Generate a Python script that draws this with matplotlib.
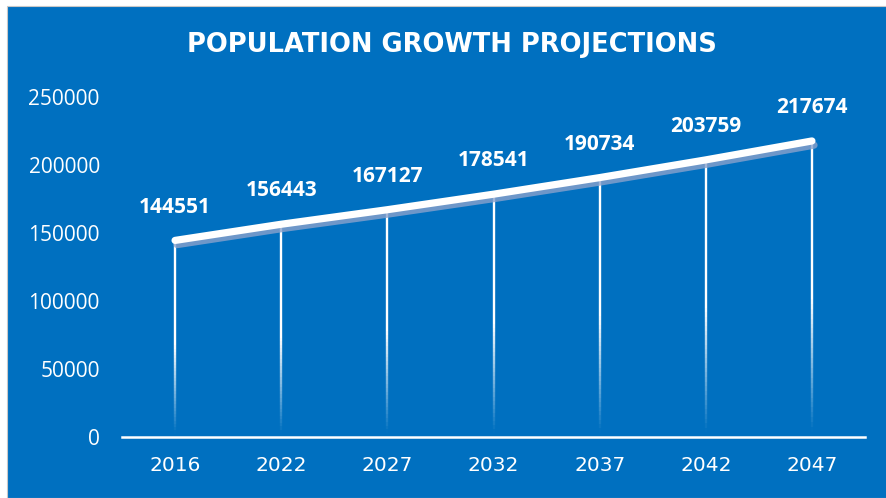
import numpy as np
import matplotlib
matplotlib.use('Agg')
import matplotlib.pyplot as plt
import matplotlib.patheffects as pe
from matplotlib.collections import LineCollection
from matplotlib.patches import Rectangle

years = ['2016', '2022', '2027', '2032', '2037', '2042', '2047']
population = [144551, 156443, 167127, 178541, 190734, 203759, 217674]
yticks = [0, 50000, 100000, 150000, 200000, 250000]

bg = '#0070C0'
W, H = 886, 498

fig = plt.figure(figsize=(W / 100, H / 100), dpi=100, facecolor='white')
# blue chart area behind everything
fig.patches.append(Rectangle((7 / W, 0), 1, 1 - 6 / H, transform=fig.transFigure,
                             facecolor=bg, edgecolor='#c8c8c8', linewidth=0.8, zorder=-5))

ax = fig.add_axes([122 / W, 1 - 437 / H, (865 - 122) / W, (437 - 97) / H])
ax.set_facecolor('none')
ax.set_zorder(2)
x = np.arange(len(years))
ax.set_xlim(-0.5, len(years) - 0.5)
ax.set_ylim(0, 250000)

# drop lines fading out toward the axis
n = 60
for xi, v in zip(x, population):
    ys = np.linspace(0, v, n + 1)
    segs = [[(xi, ys[i]), (xi, ys[i + 1])] for i in range(n)]
    frac = (ys[:-1] + ys[1:]) / 2 / v
    alphas = np.clip((frac - 0.02) / 0.45, 0, 1)
    colors = [(1, 1, 1, a) for a in alphas]
    ax.add_collection(LineCollection(segs, colors=colors, linewidths=1.7, zorder=2))

ax.plot(x, population, color='white', linewidth=5.2, solid_capstyle='round', zorder=3,
        path_effects=[pe.SimpleLineShadow(offset=(1.5, -3), shadow_color='#8aa2cc', alpha=0.8),
                      pe.Normal()])

for xi, v in zip(x, population):
    ax.annotate(f'{v}', (xi, v), xytext=(0, 24), textcoords='offset points',
                ha='center', va='center', color='white', fontsize=15,
                fontweight='bold', family='Open Sans')

for s in ['top', 'right', 'left']:
    ax.spines[s].set_visible(False)
ax.spines['bottom'].set_color('white')
ax.spines['bottom'].set_linewidth(1.8)

ax.set_xticks(x)
ax.set_xticklabels(years)
ax.set_yticks(yticks)
ax.set_yticklabels([str(t) for t in yticks])
ax.tick_params(axis='both', length=0, colors='white')
ax.tick_params(axis='x', pad=14, labelsize=14.5)
ax.tick_params(axis='y', pad=16, labelsize=15)
for lbl in ax.get_xticklabels():
    lbl.set_family('DejaVu Sans')
for lbl in ax.get_yticklabels():
    lbl.set_family('Open Sans')

fig.text(452 / W, 1 - 45 / H, 'POPULATION GROWTH PROJECTIONS', ha='center', va='center',
         color='white', fontsize=18.5, fontweight='bold', family='DejaVu Sans')

fig.savefig('out.png', dpi=100, facecolor='white')
